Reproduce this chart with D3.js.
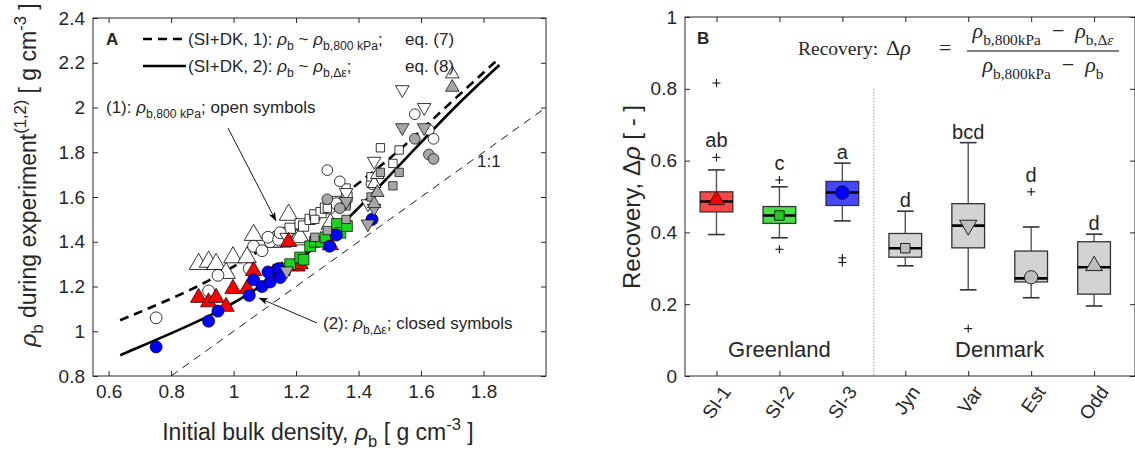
<!DOCTYPE html>
<html><head><meta charset="utf-8">
<script src="https://cdn.jsdelivr.net/npm/d3@7"></script>
<style>
body{margin:0;background:#fff}
svg{display:block}
text{font-family:"Liberation Sans",Arial,Helvetica,sans-serif;fill:#262626}
</style>
</head><body>
<svg id="c" width="1135" height="453"></svg>
<script>
// ---------------- DATA: panel A ----------------
const xTicksA = [0.6,0.8,1.0,1.2,1.4,1.6,1.8];
const xTickLabelsA = ["0.6","0.8","1","1.2","1.4","1.6","1.8"];
const yTicksA = [0.8,1.0,1.2,1.4,1.6,1.8,2.0,2.2,2.4];
const yTickLabelsA = ["0.8","1","1.2","1.4","1.6","1.8","2","2.2","2.4"];

// fitted curves
const fit1X = [0.637,0.893,1.053,1.288,1.427,1.534,1.662,1.851];
const fit1Y = [1.049,1.198,1.333,1.541,1.690,1.810,1.980,2.221];
const fit2X = [0.637,0.925,1.053,1.213,1.342,1.459,1.577,1.705,1.851];
const fit2Y = [0.893,1.064,1.169,1.318,1.467,1.635,1.810,2.000,2.190];

// per site: initial density, density at 800 kPa (open), density after recovery (closed)
const si1X      = [0.888,0.920,0.944,0.976,0.998,1.043,1.064,1.128,1.155,1.176,1.203,1.213,1.310];
const si1Open   = [1.300,1.310,1.300,1.260,1.330,1.330,1.430,1.400,1.400,1.520,1.410,1.420,1.480];
const si1Closed = [1.150,1.130,1.150,1.110,1.190,1.190,1.270,1.260,1.270,1.400,1.290,1.300,1.385];

const si2X      = [1.165,1.181,1.213,1.224,1.245,1.260,1.280,1.294,1.331,1.342,1.363];
const si2Open   = [1.440,1.460,1.480,1.470,1.500,1.520,1.530,1.550,1.580,1.570,1.600];
const si2Closed = [1.280,1.300,1.330,1.320,1.380,1.400,1.400,1.420,1.480,1.440,1.470];

const si3X      = [0.752,0.920,0.950,1.050,1.064,1.091,1.117,1.110,1.144,1.149,1.307,1.329,1.443];
const si3Open   = [1.060,1.180,1.250,1.280,1.380,1.360,1.400,1.420,1.410,1.440,1.550,1.570,1.660];
const si3Closed = [0.930,1.045,1.090,1.160,1.230,1.200,1.220,1.265,1.280,1.240,1.380,1.430,1.500];

const jynX      = [1.260,1.300,1.360,1.360,1.440,1.470,1.510,1.530];
const jynOpen   = [1.500,1.550,1.640,1.570,1.690,1.820,1.750,1.810];
const jynClosed = [1.420,1.450,1.560,1.500,1.600,1.710,1.650,1.710];

const varX      = [1.170,1.360,1.430,1.450,1.540,1.610];
const varOpen   = [1.420,1.620,1.570,1.760,2.080,2.000];
const varClosed = [1.270,1.580,1.480,1.550,1.910,1.910];

const estX      = [1.300,1.340,1.580,1.625,1.640];
const estOpen   = [1.720,1.670,1.970,1.900,1.860];
const estClosed = [1.590,1.550,1.860,1.790,1.770];

const oddX      = [1.450,1.460,1.700];
const oddOpen   = [1.660,1.700,2.150];
const oddClosed = [1.570,1.620,2.090];

// ---------------- DATA: panel B ----------------
const groups   = ["SI-1","SI-2","SI-3","Jyn","Var","Est","Odd"];
const q1       = [0.457,0.425,0.475,0.331,0.357,0.262,0.228];
const medians  = [0.486,0.447,0.511,0.356,0.419,0.272,0.303];
const q3       = [0.513,0.472,0.542,0.397,0.480,0.348,0.374];
const whiskLo  = [0.394,0.385,0.432,0.307,0.240,0.218,0.195];
const whiskHi  = [0.574,0.527,0.593,0.459,0.650,0.415,0.395];
const means    = [0.490,0.447,0.511,0.356,0.420,0.275,0.307];
const outliers = [[0.609,0.816],[0.546,0.353],[0.329,0.316],[],[0.132],[0.513],[]];
const letters  = ["ab","c","a","d","bcd","d","d"];
const yTicksB = [0,0.2,0.4,0.6,0.8,1];
const yTickLabelsB = ["0","0.2","0.4","0.6","0.8","1"];

// ---------------- helpers ----------------
const svg = d3.select("#c");
const INK = "#262626";

function rich(sel, parts, fs, subRatio){
  const r = subRatio || 0.72;
  let shift = 0;
  parts.forEach(p=>{
    let target = 0, size = fs;
    if (p.sub){ target = fs*0.3; size = fs*r; }
    if (p.sup){ target = -fs*0.42; size = fs*r; }
    const ts = sel.append("tspan").text(p.t)
      .attr("dy", (target-shift).toFixed(2))
      .style("font-size", size+"px");
    if (p.it) ts.style("font-style","italic");
    shift = target;
  });
  return sel;
}

const shapes = {up: d3.symbolTriangle, square: d3.symbolSquare, circle: d3.symbolCircle, down: d3.symbolTriangle};
function symbolPath(shape, size){ return d3.symbol().type(shapes[shape]).size(size)(); }

function styleAxis(g){
  g.select(".domain").remove();
  g.selectAll(".tick line").attr("stroke", INK).attr("stroke-width",1);
  g.selectAll(".tick text").attr("fill", INK).style("font-family","'Liberation Sans',Arial,sans-serif");
}

const defs = svg.append("defs");
defs.append("marker").attr("id","arr").attr("viewBox","0 -5 10 10")
  .attr("refX",9).attr("refY",0).attr("markerWidth",10).attr("markerHeight",10)
  .attr("markerUnits","userSpaceOnUse").attr("orient","auto")
  .append("path").attr("d","M0,-3.5L9,0L0,3.5L2.5,0Z").attr("fill","#000");
defs.append("clipPath").attr("id","clipA").append("rect")
  .attr("x",93).attr("y",18).attr("width",453).attr("height",358);

// ================= PANEL A =================
const xA = d3.scaleLinear().domain([0.55,2.0]).range([93,546]);
const yA = d3.scaleLinear().domain([0.8,2.4]).range([376,18]);
const gA = svg.append("g");

const fmtX = (d,i)=>xTickLabelsA[i], fmtY=(d,i)=>yTickLabelsA[i];
gA.append("g").attr("transform","translate(0,376)")
  .call(d3.axisBottom(xA).tickValues(xTicksA).tickFormat(fmtX).tickSize(-5).tickSizeOuter(0).tickPadding(9))
  .call(styleAxis).selectAll("text").style("font-size","19px");
gA.append("g").attr("transform","translate(0,18)")
  .call(d3.axisTop(xA).tickValues(xTicksA).tickFormat("").tickSize(-5).tickSizeOuter(0)).call(styleAxis);
gA.append("g").attr("transform","translate(93,0)")
  .call(d3.axisLeft(yA).tickValues(yTicksA).tickFormat(fmtY).tickSize(-5).tickSizeOuter(0).tickPadding(8))
  .call(styleAxis).selectAll("text").style("font-size","19px");
gA.append("g").attr("transform","translate(546,0)")
  .call(d3.axisRight(yA).tickValues(yTicksA).tickFormat("").tickSize(-5).tickSizeOuter(0)).call(styleAxis);

const plotA = gA.append("g").attr("clip-path","url(#clipA)");

plotA.append("path").attr("d", d3.line().x(d=>xA(d)).y(d=>yA(d))([0.8,2.0]))
  .attr("stroke","#000").attr("stroke-width",0.9).attr("stroke-dasharray","8,6").attr("fill","none");

const lineA = d3.line().x(d=>xA(d[0])).y(d=>yA(d[1])).curve(d3.curveBasis);
plotA.append("path").attr("d", lineA(fit1X.map((x,i)=>[x,fit1Y[i]])))
  .attr("stroke","#000").attr("stroke-width",2.6).attr("stroke-dasharray","9,6").attr("fill","none");
plotA.append("path").attr("d", lineA(fit2X.map((x,i)=>[x,fit2Y[i]])))
  .attr("stroke","#000").attr("stroke-width",2.6).attr("fill","none");

const sites = [
  {x:si1X, o:si1Open, c:si1Closed, shape:"up",     fill:"#ff0000", so:150, sc:115},
  {x:si2X, o:si2Open, c:si2Closed, shape:"square", fill:"#1ed21e", so:105, sc:115},
  {x:si3X, o:si3Open, c:si3Closed, shape:"circle", fill:"#0000ff", so:110, sc:115},
  {x:jynX, o:jynOpen, c:jynClosed, shape:"square", fill:"#a6a6a6", so:70,  sc:70},
  {x:varX, o:varOpen, c:varClosed, shape:"down",   fill:"#a6a6a6", so:80,  sc:80},
  {x:estX, o:estOpen, c:estClosed, shape:"circle", fill:"#a6a6a6", so:90,  sc:90},
  {x:oddX, o:oddOpen, c:oddClosed, shape:"up",     fill:"#a6a6a6", so:80,  sc:80}
];
function drawPts(s, key, open){
  plotA.append("g").selectAll("path").data(s.x.map((x,i)=>[x,s[key][i]])).join("path")
    .attr("d", symbolPath(s.shape, open ? s.so : s.sc))
    .attr("transform", d=>`translate(${xA(d[0])},${yA(d[1])})` + (s.shape==="down"?" rotate(180)":""))
    .attr("fill", open ? "#fff" : s.fill)
    .attr("stroke", "#000").attr("stroke-width", open?0.8:0.7);
}
sites.forEach(s=>drawPts(s,"o",true));
sites.forEach(s=>drawPts(s,"c",false));

gA.append("rect").attr("x",93).attr("y",18).attr("width",453).attr("height",358)
  .attr("fill","none").attr("stroke",INK).attr("stroke-width",1);

gA.append("text").attr("x",106).attr("y",45).text("A").style("font-weight","bold").style("font-size","17px").attr("fill","#000");
gA.append("line").attr("x1",143).attr("x2",186).attr("y1",39).attr("y2",39)
  .attr("stroke","#000").attr("stroke-width",2.6).attr("stroke-dasharray","9,6");
gA.append("line").attr("x1",143).attr("x2",186).attr("y1",66).attr("y2",66)
  .attr("stroke","#000").attr("stroke-width",2.6);
rich(gA.append("text").attr("x",188).attr("y",45).attr("fill","#000"),
  [{t:"(SI+DK, 1): "},{t:"ρ",it:1},{t:"b",sub:1},{t:" ~ "},{t:"ρ",it:1},{t:"b,800 kPa",sub:1},{t:";"}],17);
gA.append("text").attr("x",405).attr("y",45).attr("fill","#000").style("font-size","17px").text("eq. (7)");
rich(gA.append("text").attr("x",188).attr("y",72).attr("fill","#000"),
  [{t:"(SI+DK, 2): "},{t:"ρ",it:1},{t:"b",sub:1},{t:" ~ "},{t:"ρ",it:1},{t:"b,Δε",sub:1},{t:";"}],17);
gA.append("text").attr("x",405).attr("y",72).attr("fill","#000").style("font-size","17px").text("eq. (8)");

rich(gA.append("text").attr("x",106).attr("y",113).attr("fill","#000"),
  [{t:"(1): "},{t:"ρ",it:1},{t:"b,800 kPa",sub:1},{t:"; open symbols"}],17);
gA.append("line").attr("x1",228).attr("y1",128).attr("x2",276).attr("y2",221)
  .attr("stroke","#000").attr("stroke-width",0.9).attr("marker-end","url(#arr)");
rich(gA.append("text").attr("x",323).attr("y",329).attr("fill","#000"),
  [{t:"(2): "},{t:"ρ",it:1},{t:"b,Δε",sub:1},{t:"; closed symbols"}],17);
gA.append("line").attr("x1",317).attr("y1",323).attr("x2",259).attr("y2",298)
  .attr("stroke","#000").attr("stroke-width",0.9).attr("marker-end","url(#arr)");
gA.append("text").attr("x",477).attr("y",167).attr("fill","#000").style("font-size","17px").text("1:1");

rich(gA.append("text").attr("x",318).attr("y",440).attr("text-anchor","middle"),
  [{t:"Initial bulk density, "},{t:"ρ",it:1},{t:"b",sub:1},{t:" [ g cm"},{t:"-3",sup:1},{t:" ]"}],23);
rich(gA.append("text").attr("transform","translate(36,175) rotate(-90)").attr("text-anchor","middle"),
  [{t:"ρ",it:1},{t:"b",sub:1},{t:" during experiment"},{t:"(1,2)",sup:1},{t:" [ g cm"},{t:"-3",sup:1},{t:" ]"}],23);

// ================= PANEL B =================
const xB = d3.scaleLinear().domain([0.5,7.65]).range([685,1135]);
const yB = d3.scaleLinear().domain([0,1]).range([376,17]);
const gB = svg.append("g");
const idx = groups.map((g,i)=>i+1);

gB.append("g").attr("transform","translate(0,376)")
  .call(d3.axisBottom(xB).tickValues(idx).tickFormat("").tickSize(-5).tickSizeOuter(0)).call(styleAxis);
gB.append("g").attr("transform","translate(0,17)")
  .call(d3.axisTop(xB).tickValues(idx).tickFormat("").tickSize(-5).tickSizeOuter(0)).call(styleAxis);
gB.append("g").attr("transform","translate(685,0)")
  .call(d3.axisLeft(yB).tickValues(yTicksB).tickFormat((d,i)=>yTickLabelsB[i]).tickSize(-5).tickSizeOuter(0).tickPadding(8))
  .call(styleAxis).selectAll("text").style("font-size","19px");
gB.append("g").attr("transform","translate(1135,0)")
  .call(d3.axisRight(yB).tickValues(yTicksB).tickFormat("").tickSize(-5).tickSizeOuter(0)).call(styleAxis);

gB.append("g").selectAll("text").data(groups).join("text")
  .attr("transform",(d,i)=>`translate(${xB(i+1)+10},${388}) rotate(-55)`)
  .attr("text-anchor","end").attr("dy","0.35em").style("font-size","19px").text(d=>d);

gB.append("line").attr("x1",xB(3.5)).attr("x2",xB(3.5)).attr("y1",yB(0.8)).attr("y2",yB(0))
  .attr("stroke","#777").attr("stroke-width",1).attr("stroke-dasharray","1,2");

const boxFill  = ["#ff4646","#46e046","#4646ff","#d3d3d3","#d3d3d3","#d3d3d3","#d3d3d3"];
const markFill = ["#ff0000","#22cc22","#0000ff","#bdbdbd","#bdbdbd","#bdbdbd","#bdbdbd"];
const markShape= ["up","square","circle","square","down","circle","up"];
const markSize = [110,90,150,90,130,140,120];
const bw = 0.52, cw = 0.265;

groups.forEach((g,i)=>{
  const cx = xB(i+1), half = (xB(1+bw/2)-xB(1)), ch = (xB(1+cw/2)-xB(1));
  const G = gB.append("g");
  [[q3[i],whiskHi[i]],[q1[i],whiskLo[i]]].forEach(([a,b])=>{
    G.append("line").attr("x1",cx).attr("x2",cx).attr("y1",yB(a)).attr("y2",yB(b))
      .attr("stroke","#555").attr("stroke-width",1.4);
    G.append("line").attr("x1",cx-ch).attr("x2",cx+ch).attr("y1",yB(b)).attr("y2",yB(b))
      .attr("stroke","#333").attr("stroke-width",1.6);
  });
  G.append("rect").attr("x",cx-half).attr("y",yB(q3[i])).attr("width",2*half)
    .attr("height",yB(q1[i])-yB(q3[i])).attr("fill",boxFill[i]).attr("stroke","#333").attr("stroke-width",1.3);
  G.append("line").attr("x1",cx-half).attr("x2",cx+half).attr("y1",yB(medians[i])).attr("y2",yB(medians[i]))
    .attr("stroke","#000").attr("stroke-width",2.6);
  G.append("path").attr("d",symbolPath(markShape[i],markSize[i]))
    .attr("transform",`translate(${cx},${yB(means[i])})`+(markShape[i]==="down"?" rotate(180)":""))
    .attr("fill",markFill[i]).attr("stroke","#222").attr("stroke-width",1);
  outliers[i].forEach(v=>{
    G.append("path").attr("d",`M${cx-4},${yB(v)}H${cx+4}M${cx},${yB(v)-4}V${yB(v)+4}`)
      .attr("stroke","#000").attr("stroke-width",1);
  });
  const near = outliers[i].filter(v=>v>whiskHi[i] && v<0.7);
  const top = near.length ? d3.max(near) : whiskHi[i];
  const off = near.length ? 10 : 4;
  G.append("text").attr("x",cx).attr("y",yB(top)-off).attr("text-anchor","middle")
    .attr("fill","#000").style("font-size","20px").text(letters[i]);
});

gB.append("text").attr("x",xB(2)).attr("y",357).attr("text-anchor","middle").attr("fill","#000")
  .style("font-size","22px").text("Greenland");
gB.append("text").attr("x",xB(5.5)).attr("y",357).attr("text-anchor","middle").attr("fill","#000")
  .style("font-size","22px").text("Denmark");

gB.append("rect").attr("x",685).attr("y",17).attr("width",450).attr("height",359)
  .attr("fill","none").attr("stroke",INK).attr("stroke-width",1);

gB.append("text").attr("x",697).attr("y",44).text("B").style("font-weight","bold").style("font-size","17px").attr("fill","#000");

// recovery formula
const SERIF = "'Liberation Serif','Times New Roman',serif";
gB.append("text").attr("x",798).attr("y",55).attr("fill","#000").style("font-family",SERIF)
  .style("font-size","19.5px").text("Recovery:");
rich(gB.append("text").attr("x",886).attr("y",55).attr("fill","#000").style("font-family",SERIF),
  [{t:"Δ"},{t:"ρ",it:1}],22);
gB.append("text").attr("x",939).attr("y",55).attr("fill","#000").style("font-family",SERIF)
  .style("font-size","22px").text("=");
rich(gB.append("text").attr("x",1043).attr("y",38).attr("text-anchor","middle").attr("fill","#000")
    .style("font-family",SERIF),
  [{t:"ρ",it:1},{t:"b,800kPa",sub:1},{t:"\u2002−\u2002"},{t:"ρ",it:1},{t:"b,Δ",sub:1},{t:"ε",sub:1,it:1}],22,0.7);
gB.append("line").attr("x1",967).attr("x2",1119).attr("y1",51).attr("y2",51).attr("stroke","#000").attr("stroke-width",1);
rich(gB.append("text").attr("x",1043).attr("y",72).attr("text-anchor","middle").attr("fill","#000")
    .style("font-family",SERIF),
  [{t:"ρ",it:1},{t:"b,800kPa",sub:1},{t:"\u2002−\u2002"},{t:"ρ",it:1},{t:"b",sub:1}],22,0.7);

rich(gB.append("text").attr("transform","translate(640,197) rotate(-90)").attr("text-anchor","middle"),
  [{t:"Recovery, Δ"},{t:"ρ",it:1},{t:" [ - ]"}],24);
</script>
</body></html>
